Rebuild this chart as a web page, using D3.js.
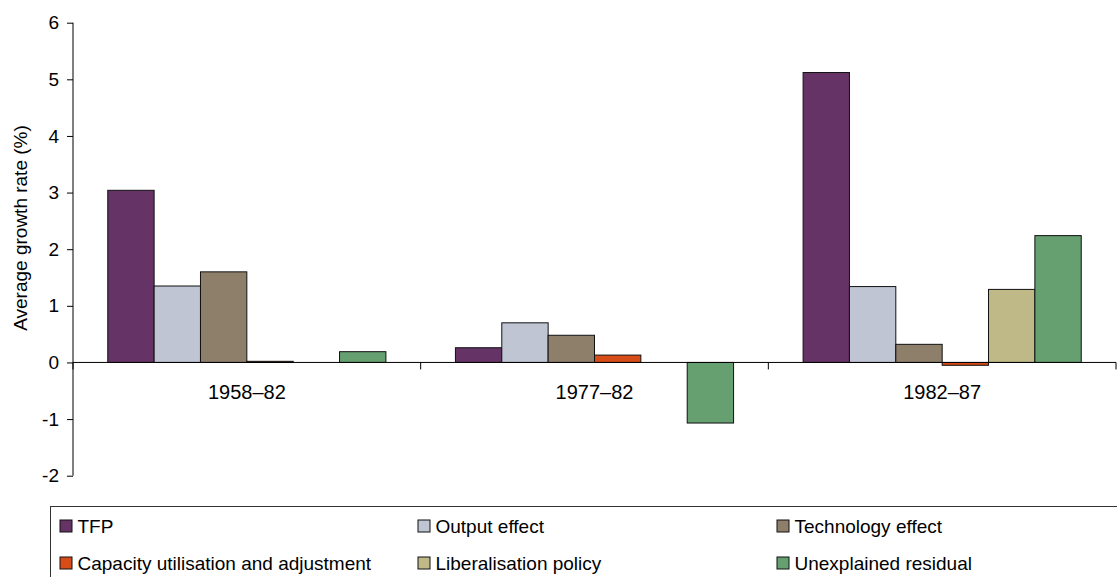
<!DOCTYPE html>
<html>
<head>
<meta charset="utf-8">
<script src="https://cdn.jsdelivr.net/npm/d3@7"></script>
<style>
  body { margin: 0; background: #fff; }
  svg { display: block; font-family: "Liberation Sans", Arial, sans-serif; }
</style>
</head>
<body>
<svg id="chart" width="1117" height="577"></svg>
<script>
const categories = ["1958–82", "1977–82", "1982–87"];
const seriesNames = ["TFP", "Output effect", "Technology effect", "Capacity utilisation and adjustment", "Liberalisation policy", "Unexplained residual"];
const seriesColors = ["#663366", "#BFC5D2", "#8E7F6B", "#D84C17", "#BFB987", "#669F70"];
const tfp = [3.04, 0.26, 5.12];
const outputEffect = [1.35, 0.70, 1.34];
const technologyEffect = [1.60, 0.48, 0.32];
const capacityUtilisation = [0.02, 0.13, -0.05];
const liberalisationPolicy = [null, null, 1.29];
const unexplainedResidual = [0.19, -1.07, 2.24];
const yTicks = [-2, -1, 0, 1, 2, 3, 4, 5, 6];

const seriesValues = [tfp, outputEffect, technologyEffect, capacityUtilisation, liberalisationPolicy, unexplainedResidual];

const svg = d3.select("#chart");
const plotLeft = 73, plotRight = 1116, plotTop = 22.7, plotBottom = 475.7;

const x0 = d3.scaleBand().domain(categories).range([plotLeft, plotRight]).padding(0);
const x1 = d3.scaleBand().domain(d3.range(seriesNames.length)).range([0, x0.bandwidth()]).paddingInner(0).paddingOuter(0.75);
const y = d3.scaleLinear().domain([-2, 6]).range([plotBottom, plotTop]);

// bars
categories.forEach((c, ci) => {
  seriesValues.forEach((vals, si) => {
    const v = vals[ci];
    if (v === null) return;
    svg.append("rect")
      .attr("x", x0(c) + x1(si))
      .attr("y", y(Math.max(0, v)))
      .attr("width", x1.bandwidth())
      .attr("height", Math.abs(y(v) - y(0)))
      .attr("fill", seriesColors[si])
      .attr("stroke", "#111")
      .attr("stroke-width", 1);
  });
});

// y axis
const yAxis = d3.axisLeft(y).tickValues(yTicks).tickSize(6).tickPadding(8).tickFormat(d => String(d));
const gy = svg.append("g").attr("transform", `translate(${plotLeft},0)`).call(yAxis);
gy.select(".domain").attr("stroke", "#000").attr("d", `M0,${plotTop}V${plotBottom}`);
gy.selectAll(".tick line").attr("stroke", "#000");
gy.selectAll(".tick text").attr("font-size", "19px").attr("fill", "#000").attr("font-family", "Liberation Sans, Arial, sans-serif");

// x axis at zero
const xAxisG = svg.append("g").attr("transform", `translate(0,${y(0)})`);
xAxisG.append("line").attr("x1", plotLeft).attr("x2", plotRight).attr("y1", 0).attr("y2", 0).attr("stroke", "#000");
const boundaries = [plotLeft].concat(categories.map(c => x0(c) + x0.bandwidth()));
xAxisG.selectAll(".cat-tick").data(boundaries).join("line")
  .attr("x1", d => d).attr("x2", d => d).attr("y1", 0).attr("y2", 7).attr("stroke", "#000");
xAxisG.selectAll(".cat-label").data(categories).join("text")
  .attr("x", d => x0(d) + x0.bandwidth() / 2)
  .attr("y", 37)
  .attr("text-anchor", "middle")
  .attr("font-size", "20px")
  .attr("fill", "#000")
  .text(d => d);

// y axis title
svg.append("text")
  .attr("transform", "translate(26.5,228) rotate(-90)")
  .attr("text-anchor", "middle")
  .attr("font-size", "19px")
  .attr("fill", "#000")
  .text("Average growth rate (%)");

// legend
svg.append("rect").attr("x", 50.5).attr("y", 506.5).attr("width", 1100).attr("height", 100)
  .attr("fill", "none").attr("stroke", "#333").attr("stroke-width", 1);
const colX = [60, 418, 777];
const rowY = [526, 563];
seriesNames.forEach((name, i) => {
  const col = i % 3, row = Math.floor(i / 3);
  const g = svg.append("g").attr("transform", `translate(${colX[col]},${rowY[row]})`);
  g.append("rect").attr("x", 0).attr("y", -6).attr("width", 12).attr("height", 12)
    .attr("fill", seriesColors[i]).attr("stroke", "#111").attr("stroke-width", 1);
  g.append("text").attr("x", 17.5).attr("y", 7).attr("font-size", "19px").attr("fill", "#000").text(name);
});
</script>
</body>
</html>
